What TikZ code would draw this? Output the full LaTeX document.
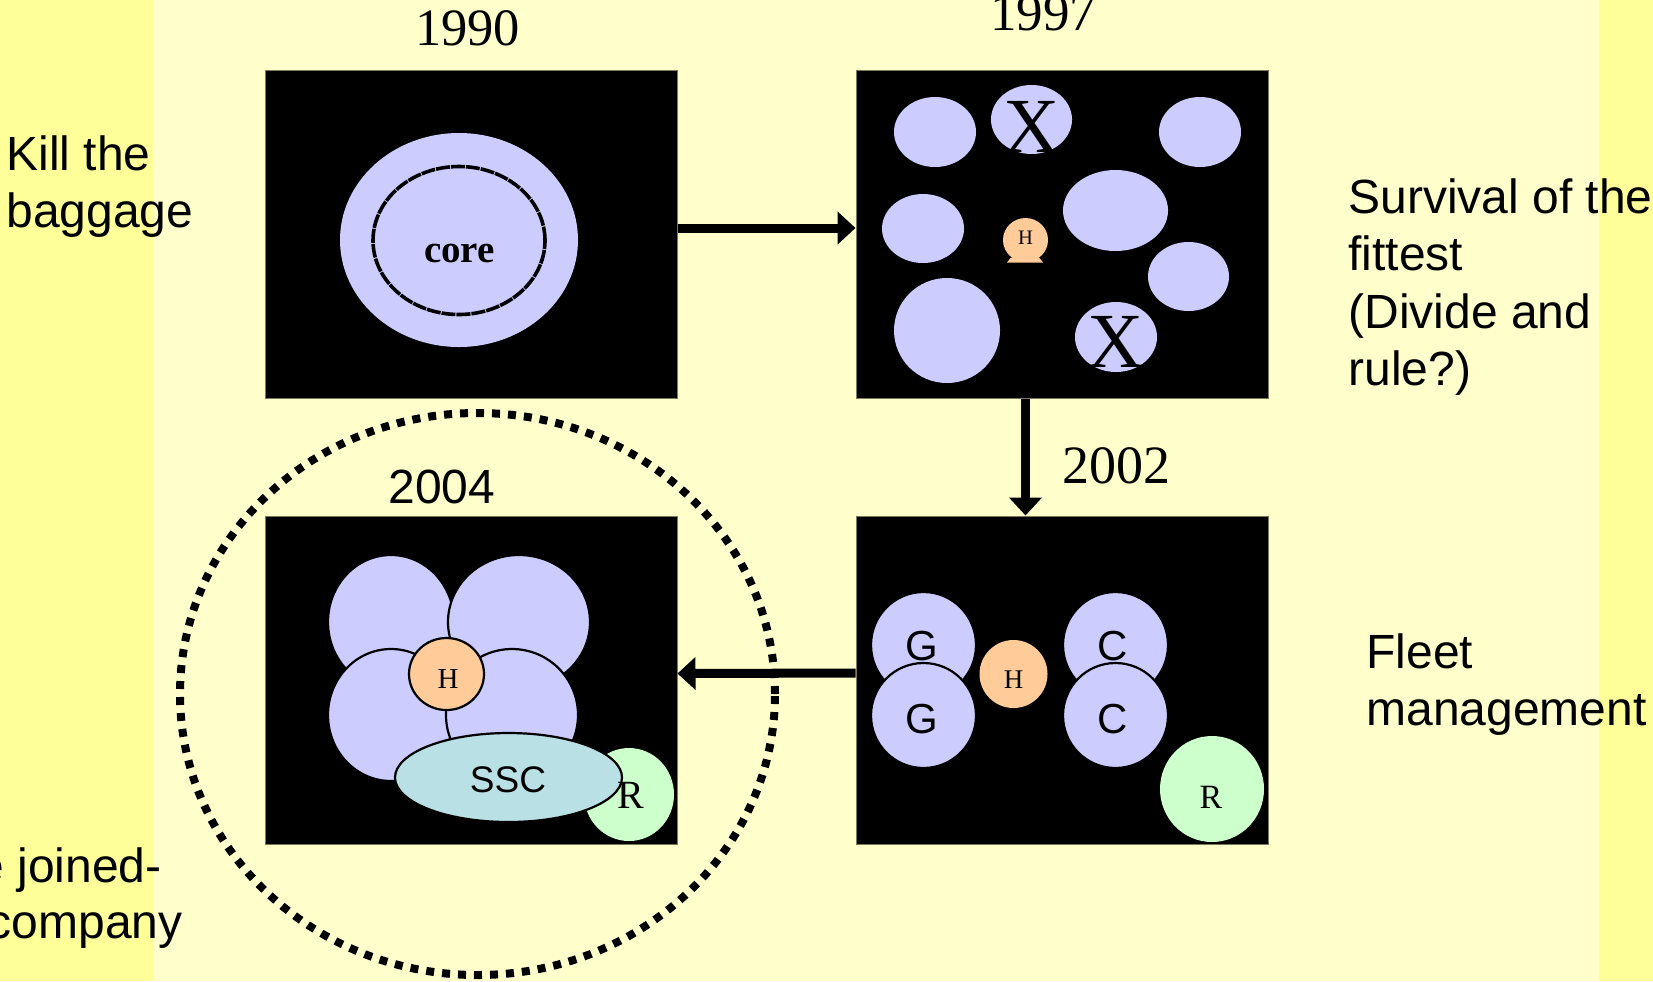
\documentclass[tikz,border=0pt]{standalone}
\usepackage{fontspec}
\setmainfont{Liberation Serif}
\newfontfamily\tnr{Liberation Serif}
\newfontfamily\ars{Liberation Sans}
\usetikzlibrary{shapes.geometric,arrows.meta}
\definecolor{bgdark}{HTML}{FFFF99}
\definecolor{bglight}{HTML}{FFFFCC}
\definecolor{lav}{HTML}{CCCCFF}
\definecolor{peach}{HTML}{FFCC99}
\definecolor{mint}{HTML}{CCFFCC}
\definecolor{sscblue}{HTML}{B9E0E4}
\definecolor{edge}{HTML}{7A7A5A}
\begin{document}
\begin{tikzpicture}[x=0.5pt,y=-0.5pt,
  sz/.style 2 args={minimum width=#1pt,minimum height=#2pt},
  blob/.style={ellipse,inner sep=0pt,fill=lav},
  oblob/.style={blob,draw=black,line width=1.1pt},
  panel/.style={rectangle,fill=black,draw=edge,line width=0.5pt,inner sep=0pt,minimum width=206pt,minimum height=164pt},
  lbl/.style={inner sep=0pt,anchor=base},
  serif/.style={font=\tnr\fontsize{#1pt}{#1pt}\selectfont},
  sans/.style={font=\ars\fontsize{#1pt}{#1pt}\selectfont},
  side/.style={inner sep=0pt,font=\ars\fontsize{24pt}{28.5pt}\selectfont},
  arr/.style={line width=4.5pt,-{Triangle[length=9pt,width=16pt]}},
]
\useasboundingbox (0,0) rectangle (1653,981);
\clip (0,0) rectangle (1653,981);
% background
\fill[bglight] (0,0) rectangle (1653,981);
\fill[bgdark] (0,0) rectangle (153,981);
\fill[bgdark] (1599,0) rectangle (1653,981);

% dotted ellipse around 2004
\node[ellipse,draw=black,line width=4pt,dash pattern=on 4pt off 4pt,sz={297.5}{281},inner sep=0pt] (ring) at (477.5,694) {};

% panels
\node[panel] (b1990) at (471,234) {};
\node[panel] (b1997) at (1062,234) {};
\node[panel] (b2002) at (1062,680) {};
\node[panel] (b2004) at (471,680.5) {};

% titles
\node[lbl,serif=26.25] (t1990) at (467.5,45) {1990};
\node[lbl,serif=26.5] (t1997) at (1043,30) {1997};
\node[lbl,serif=27] (t2002) at (1116,483) {2002};
\node[lbl,sans=24] (t2004) at (442,503) {2004};

% 1990 content
\node[blob,sz={119}{107}] (outer) at (459,240) {};
\node[ellipse,draw=black,line width=1.8pt,dash pattern=on 7pt off 0.5pt,sz={86}{74},inner sep=0pt] (inner) at (459,240.5) {};
\node[lbl,font=\tnr\bfseries\fontsize{19.5pt}{19.5pt}\selectfont] (core) at (459.5,262) {core};

% 1997 content
\node[blob,sz={41}{35}] (u1) at (935,132) {};
\node[blob,sz={40.5}{34.5}] (ux1) at (1031.5,119.5) {};
\node[blob,sz={41}{35}] (u3) at (1200,132) {};
\node[blob,sz={41}{34.5}] (u4) at (923,228.5) {};
\node[blob,sz={52.5}{40.5}] (u5) at (1115.5,210.5) {};
\node[blob,sz={40.5}{34.5}] (u6) at (1188.5,276.5) {};
\node[blob,sz={53}{52.5}] (u7) at (947,330.5) {};
\node[blob,sz={41}{35}] (ux2) at (1116,337) {};
\fill[peach] (1007,262.5) -- (1043,262.5) -- (1039,257.5) -- (1011,257.5) -- cycle;
\node[ellipse,fill=peach,inner sep=0pt,sz={22.5}{22}] (h97) at (1025.5,240) {};
\node[lbl,serif=10.3] (h97l) at (1025.5,244) {H};
\node[lbl,serif=39] (x1) at (1032,152) {X};
\node[lbl,serif=39] (x2) at (1116,367) {X};

% 2002 content
\node[oblob,sz={52.5}{53}] (gt) at (923.5,645) {};
\node[oblob,sz={52.5}{53}] (ct) at (1115.5,645) {};
\node[lbl,sans=21] (gtl) at (922,660) {G};
\node[lbl,sans=21] (ctl) at (1113,660) {C};
\node[oblob,sz={52.5}{52.5}] (gb) at (923.5,715.5) {};
\node[oblob,sz={52.5}{52.5}] (cb) at (1115.5,715.5) {};
\node[lbl,sans=21] (gbl) at (922,733) {G};
\node[lbl,sans=21] (cbl) at (1113,733) {C};
\node[ellipse,fill=peach,inner sep=0pt,sz={34}{34}] (h02) at (1013.5,674) {};
\node[lbl,serif=13.5] (h02l) at (1013.5,688) {H};
\node[ellipse,fill=mint,inner sep=0pt,sz={52}{53}] (r02) at (1212,789) {};
\node[lbl,serif=17] (r02l) at (1211,808) {R};

% 2004 content
\node[oblob,sz={63}{67}] (tl) at (391,622) {};
\node[oblob,sz={71}{67}] (tr) at (519,622) {};
\node[oblob,sz={63}{66}] (bl) at (391,715) {};
\node[oblob,sz={66}{66}] (br) at (512,715) {};
\node[ellipse,fill=peach,draw=black,line width=1.1pt,inner sep=0pt,sz={37.5}{36}] (h04) at (446.5,674) {};
\node[lbl,serif=14.5] (h04l) at (448,688) {H};
\node[ellipse,fill=mint,inner sep=0pt,sz={45}{46.5}] (r04) at (629,794.5) {};
\node[ellipse,fill=sscblue,draw=black,line width=1.1pt,inner sep=0pt,sz={113.5}{44.5}] (ssc) at (508.5,777.5) {};
\node[lbl,sans=18.5] (sscl) at (508,792) {SSC};
\node[lbl,serif=20] (r04l) at (631,808) {R};

% arrows
\draw[arr] ([yshift=3pt]b1990.east) -- ([yshift=3pt]b1997.west);
\draw[arr] ([xshift=-18.25pt]b1997.south) -- ([xshift=-18.25pt]b2002.north);
\draw[arr] ([yshift=3.5pt]b2002.west) -- ([yshift=3.5pt]b2004.east);

% side texts
\node[side,anchor=base west] (k1) at (6,170) {Kill the};
\node[side,anchor=base west] (k2) at (6,227) {baggage};
\node[side,anchor=base west] (s1) at (1348,213) {Survival of the};
\node[side,anchor=base west] (s2) at (1348,270) {fittest};
\node[side,anchor=base west] (s3) at (1348,328) {(Divide and};
\node[side,anchor=base west] (s4) at (1348,385) {rule?)};
\node[side,anchor=base west] (f1) at (1366,668) {Fleet};
\node[side,anchor=base west] (f2) at (1366,725) {management};
\node[side,anchor=base east] (j1) at (162,882) {e joined-};
\node[side,anchor=base east] (j2) at (183,938) {company};
\end{tikzpicture}
\end{document}
